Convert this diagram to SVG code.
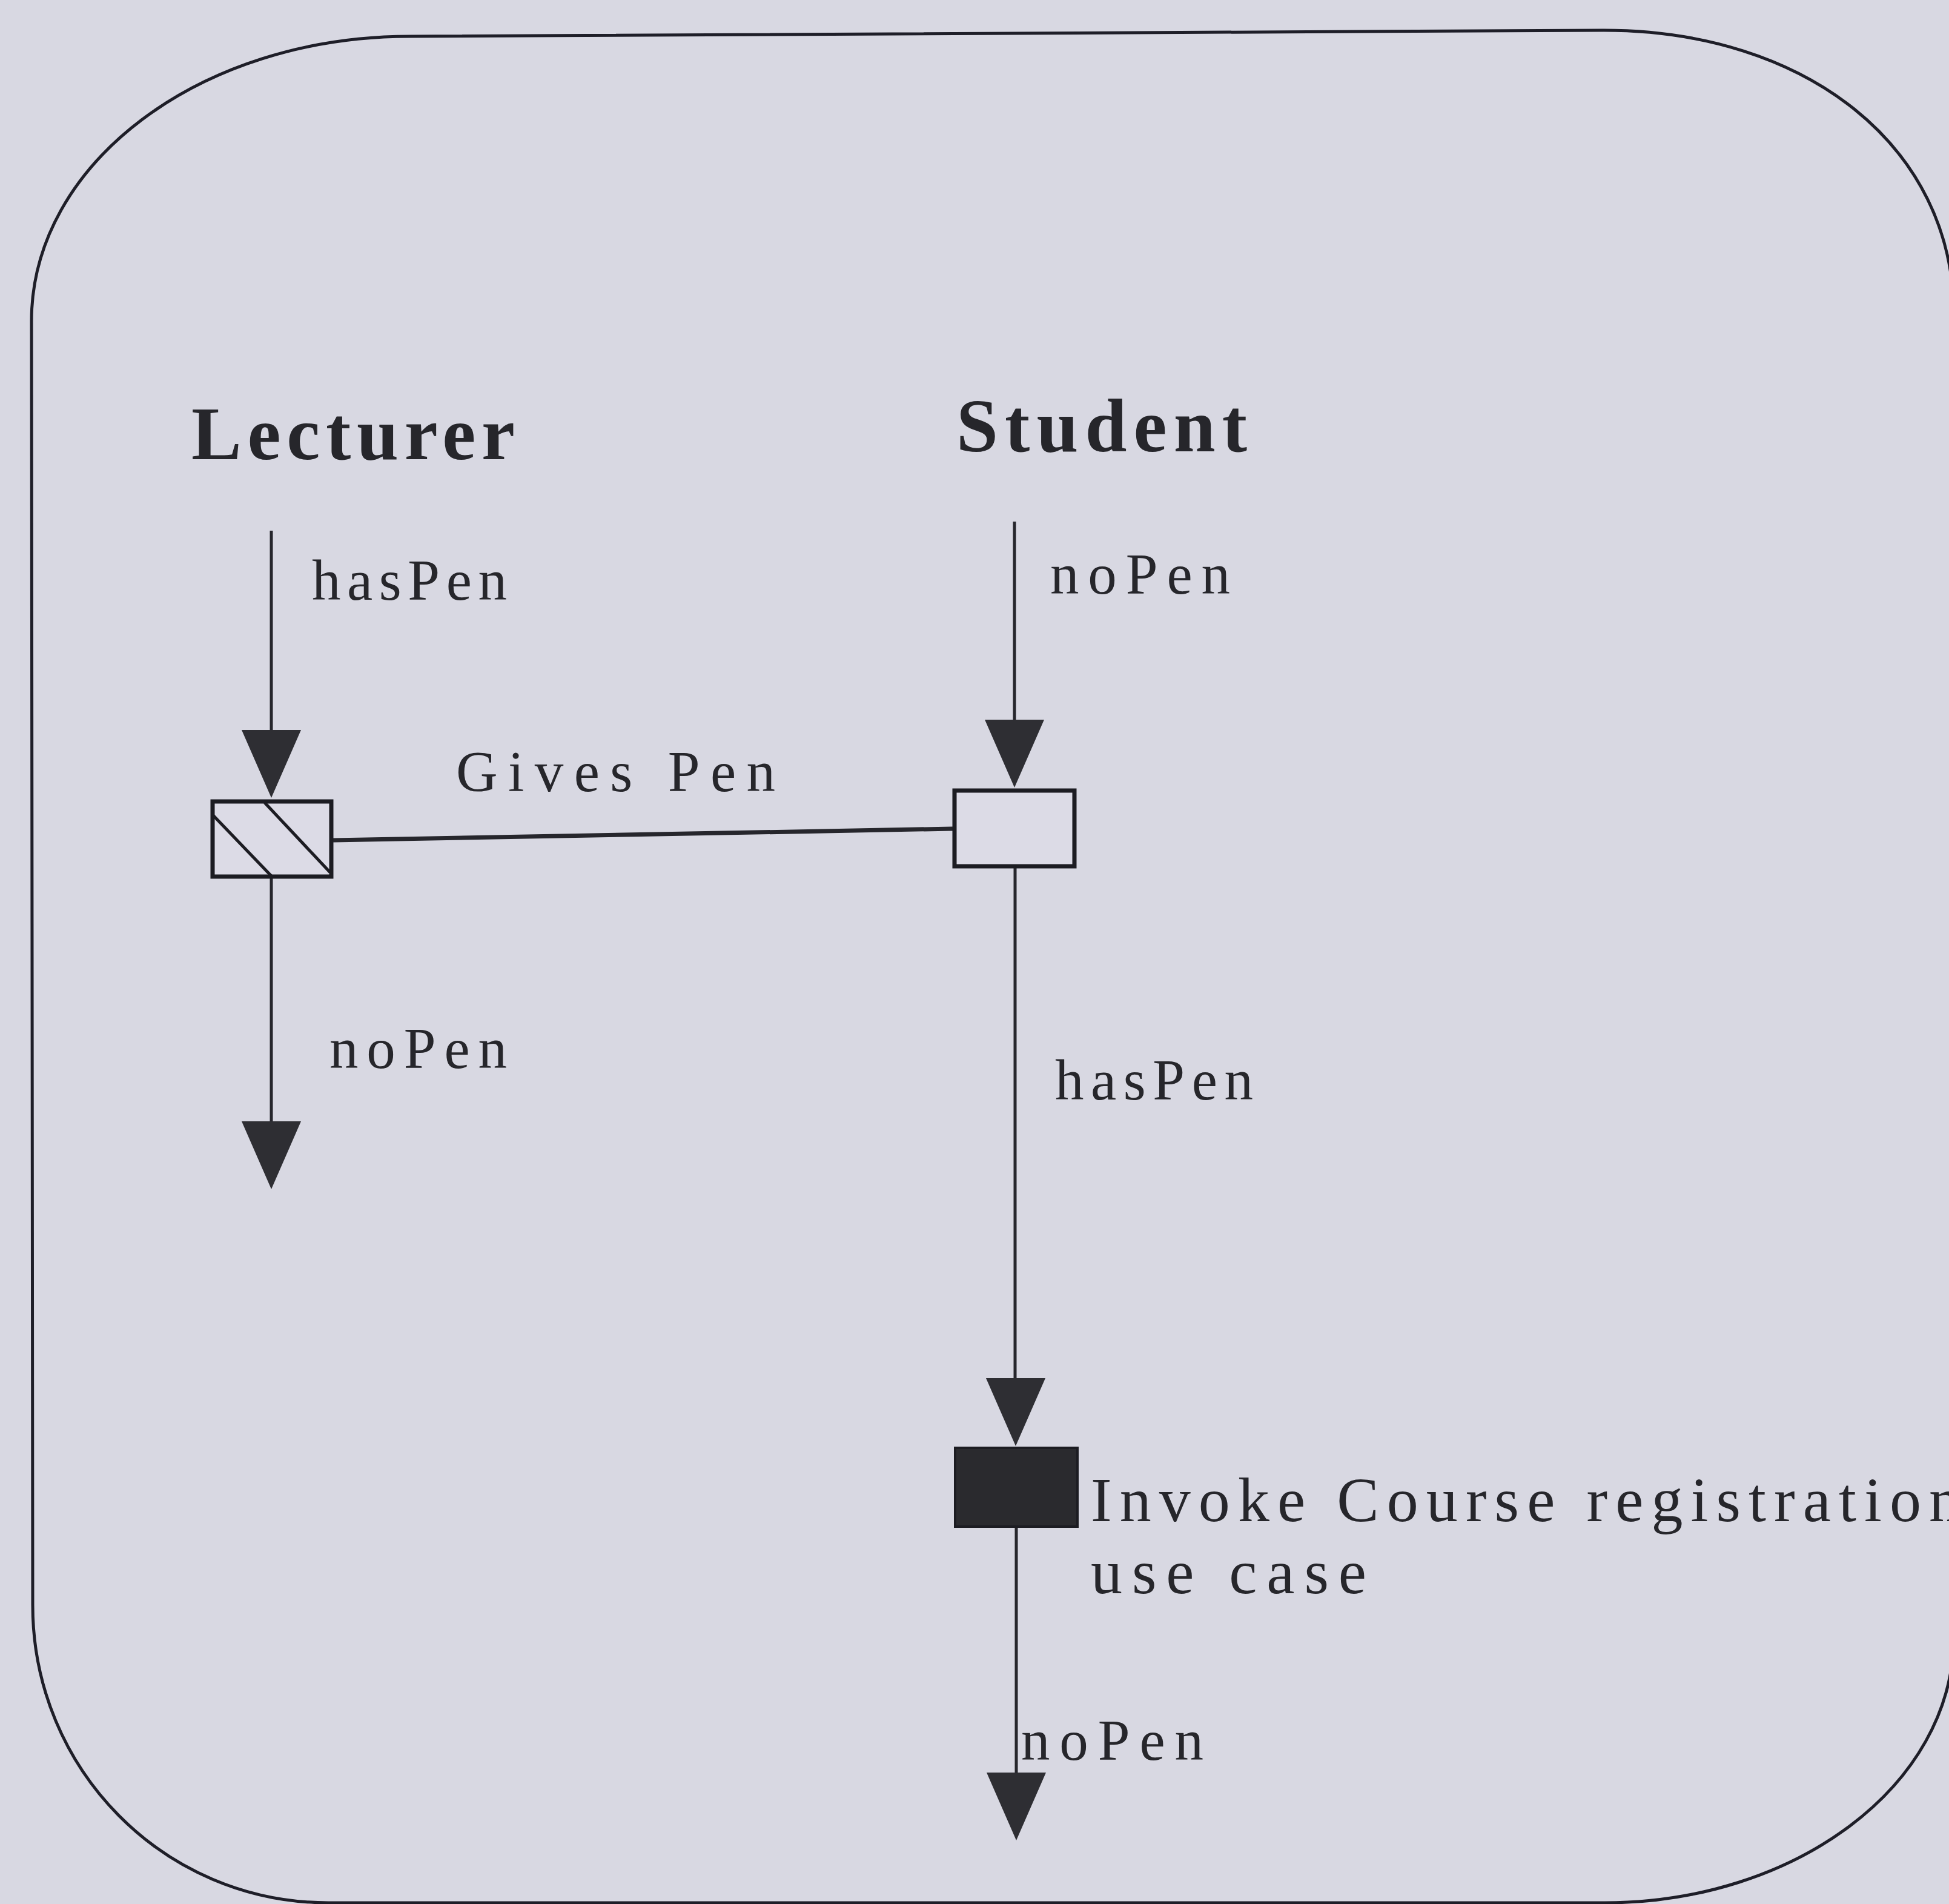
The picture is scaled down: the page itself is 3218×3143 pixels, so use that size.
<svg xmlns="http://www.w3.org/2000/svg" xmlns:xlink="http://www.w3.org/1999/xlink" width="3218" height="3143" viewBox="0 0 3218 3143">
  <style>
    .bg { fill: #d8d8e2; }
    .frame { fill: none; stroke: #1e1e28; stroke-width: 5; }
    .line { stroke: #26262c; stroke-width: 5; fill: none; }
    .box { fill: #dcdbe6; stroke: #1c1c22; stroke-width: 7; }
    .solid { fill: #2a2a2e; stroke: #1c1c22; stroke-width: 4; }
    .hatch { stroke: #1c1c22; stroke-width: 5; }
    .head { fill: #2e2e33; }
    .title { font-family: "Liberation Serif", "Times New Roman", serif; font-weight: bold; font-size: 124px; fill: #26262b; }
    .lbl { font-family: "Liberation Serif", "Times New Roman", serif; font-size: 95px; fill: #26262b; }
    .lbl2 { font-family: "Liberation Serif", "Times New Roman", serif; font-size: 104px; fill: #26262b; }
  </style>
  <defs>
    <path id="ah" d="M -49 0 L 49 0 L 0 112 Z"/>
  </defs>
  <rect class="bg" x="0" y="0" width="3218" height="3143"/>
  <path id="frame" class="frame" d="M 52 530 C 52 270 330 60 677 60 L 2648 50 C 2980 50 3226 240 3226 520 L 3226 2700 C 3226 2950 2960 3141 2650 3141 L 542 3141 C 270 3141 54 2920 54 2650 Z"/>

  <g id="connectors">
    <line class="line" x1="448" y1="876" x2="448" y2="1210"/>
    <use href="#ah" x="448" y="1205" class="head"/>
    <line class="line" x1="448" y1="1450" x2="448" y2="1855"/>
    <use href="#ah" x="448" y="1851" class="head"/>
    <line class="line" x1="1675" y1="861" x2="1675" y2="1192"/>
    <use href="#ah" x="1675" y="1188" class="head"/>
    <line class="line" x1="1676" y1="1432" x2="1676" y2="2280"/>
    <use href="#ah" x="1677" y="2275" class="head"/>
    <line class="line" x1="1678" y1="2520" x2="1678" y2="2930"/>
    <use href="#ah" x="1678" y="2926" class="head"/>
    <line class="line" x1="550" y1="1387" x2="1573" y2="1368" style="stroke-width:7"/>
  </g>

  <g id="lecturer">
    <text class="title" x="316" y="758" textLength="534" lengthAdjust="spacing">Lecturer</text>
  </g>
  <g id="student">
    <text class="title" x="1579" y="745" textLength="480" lengthAdjust="spacing">Student</text>
  </g>

  <g id="lecturer-action">
    <rect class="box" x="351" y="1323" width="196" height="124"/>
    <line class="hatch" x1="352" y1="1346" x2="448" y2="1446"/>
    <line class="hatch" x1="437" y1="1325" x2="545" y2="1440"/>
  </g>
  <g id="student-action">
    <rect class="box" x="1576" y="1305" width="198" height="125"/>
  </g>
  <g id="invoke-action">
    <rect class="solid" x="1577" y="2390" width="202" height="130"/>
  </g>

  <g id="labels">
    <text class="lbl" x="515" y="990" textLength="322" lengthAdjust="spacing">hasPen</text>
    <text class="lbl" x="1734" y="980" textLength="297" lengthAdjust="spacing">noPen</text>
    <text class="lbl" x="753" y="1306" textLength="527" lengthAdjust="spacing">Gives Pen</text>
    <text class="lbl" x="544" y="1763" textLength="293" lengthAdjust="spacing">noPen</text>
    <text class="lbl" x="1742" y="1815" textLength="327" lengthAdjust="spacing">hasPen</text>
    <text class="lbl2" x="1801" y="2511" textLength="1436" lengthAdjust="spacing">Invoke Course registration</text>
    <text class="lbl2" x="1801" y="2630" textLength="455" lengthAdjust="spacing">use case</text>
    <text class="lbl" x="1686" y="2905" textLength="301" lengthAdjust="spacing">noPen</text>
  </g>
</svg>
